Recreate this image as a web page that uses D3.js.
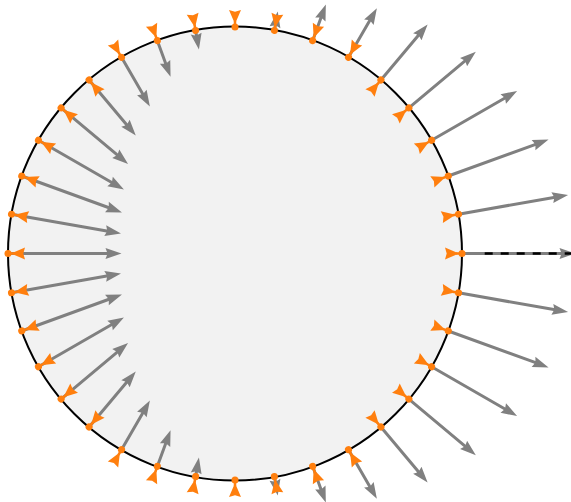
<!DOCTYPE html>
<html>
<head>
<meta charset="utf-8">
<script src="https://cdn.jsdelivr.net/npm/d3@7"></script>
<style>
  body { margin: 0; background: #fff; }
</style>
</head>
<body>
<div id="chart"></div>
<script>
// sample points on the boundary, degrees counter-clockwise from +x
const angles = [0, 10, 20, 30, 40, 50, 60, 70, 80, 90,
    100, 110, 120, 130, 140, 150, 160, 170, 180,
    190, 200, 210, 220, 230, 240, 250, 260, 270,
    280, 290, 300, 310, 320, 330, 340, 350];

// signed normal component of the field at each sample (+ = outward)
const normalFlux = [1.00, 0.98, 0.94, 0.87, 0.77, 0.64, 0.50, 0.34, 0.17, 0.00,
    -0.17, -0.34, -0.50, -0.64, -0.77, -0.87, -0.94, -0.98, -1.00,
    -0.98, -0.94, -0.87, -0.77, -0.64, -0.50, -0.34, -0.17, 0.00,
    0.17, 0.34, 0.50, 0.64, 0.77, 0.87, 0.94, 0.98];

// orange normal markers: 1 = head sits inside the disk, -1 = outside
const normalSide = [1, 1, 1, 1, 1, 1, -1, -1, -1, -1,
    -1, -1, -1, 1, 1, 1, 1, 1, 1,
    1, 1, 1, 1, 1, -1, -1, -1, -1,
    -1, -1, -1, 1, 1, 1, 1, 1];

// dashed reference line along the field direction
const refLineX = [1.1, 1.5];
const refLineY = [0, 0];

const width = 571, height = 502;
const radius = 1;
const fluxScale = 0.5; // data units per unit of flux

const svg = d3.select('#chart').append('svg')
    .attr('width', width)
    .attr('height', height);

const x = d3.scaleLinear().domain([-1, 1]).range([8, 462]);
const y = d3.scaleLinear().domain([-1, 1]).range([480, 27]);

const points = angles.map(function (a, i) {
    const t = a * Math.PI / 180;
    return {
        nx: Math.cos(t),
        ny: Math.sin(t),
        flux: normalFlux[i],
        side: normalSide[i]
    };
});

// quiver style arrow polygon in pixel space
function arrowPoly(x0, y0, x1, y1, w, hl, hal, hw) {
    const dx = x1 - x0, dy = y1 - y0;
    const L = Math.hypot(dx, dy);
    if (L < 0.5) return null;
    const ux = dx / L, uy = dy / L;
    const vx = -uy, vy = ux;
    const s = L < hl ? L / hl : 1;
    const W = w * s, HL = hl * s, HAL = hal * s, HW = hw * s;
    const pts = [[0, W / 2], [L - HAL, W / 2], [L - HL, HW / 2], [L, 0],
        [L - HL, -HW / 2], [L - HAL, -W / 2], [0, -W / 2]];
    return pts.map(function (p) {
        return [x0 + ux * p[0] + vx * p[1], y0 + uy * p[0] + vy * p[1]];
    });
}

const line = d3.line();

// disk
svg.append('circle')
    .attr('cx', x(0))
    .attr('cy', y(0))
    .attr('r', x(radius) - x(0))
    .attr('fill', '#f2f2f2')
    .attr('stroke', '#000')
    .attr('stroke-width', 2);

// gray normal flux arrows
svg.append('g').selectAll('path')
    .data(points)
    .enter()
    .append('path')
    .attr('d', function (d) {
        const poly = arrowPoly(
            x(d.nx), y(d.ny),
            x(d.nx + d.flux * fluxScale * d.nx), y(d.ny + d.flux * fluxScale * d.ny),
            3, 16, 14.5, 11);
        return poly ? line(poly) + 'Z' : null;
    })
    .attr('fill', '#808080');

// dashed reference line
svg.append('path')
    .attr('d', line(refLineX.map(function (v, i) { return [x(v), y(refLineY[i])]; })))
    .attr('stroke', '#000')
    .attr('stroke-width', 2.5)
    .attr('stroke-dasharray', '8,8')
    .attr('fill', 'none');

// orange normal markers
const marks = svg.append('g').selectAll('g')
    .data(points)
    .enter()
    .append('g')
    .attr('transform', function (d) {
        const rot = Math.atan2(-d.ny, d.nx) * 180 / Math.PI + (d.side > 0 ? 180 : 0);
        return 'translate(' + x(d.nx) + ',' + y(d.ny) + ') rotate(' + rot + ')';
    });

marks.append('line')
    .attr('x1', 0).attr('y1', 0)
    .attr('x2', 6).attr('y2', 0)
    .attr('stroke', '#ff7f0e')
    .attr('stroke-width', 2.5);

marks.append('path')
    .attr('d', 'M3,0L17,-6L15.3,0L17,6Z')
    .attr('fill', '#ff7f0e');

marks.append('circle')
    .attr('r', 3.5)
    .attr('fill', '#ff7f0e');
</script>
</body>
</html>
